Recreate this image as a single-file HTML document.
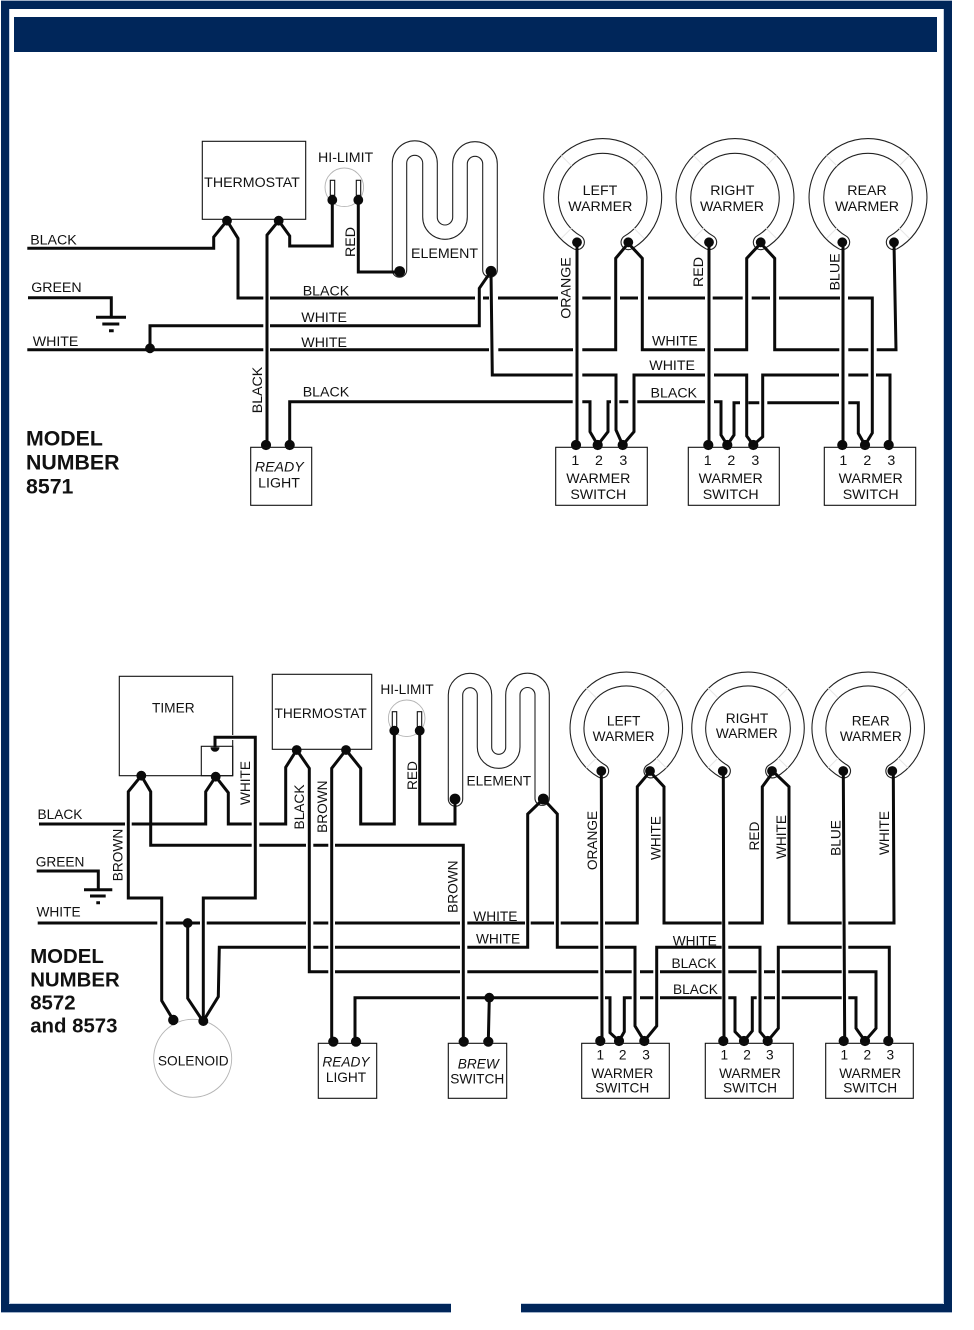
<!DOCTYPE html>
<html><head><meta charset="utf-8"><style>
html,body{margin:0;padding:0;background:#fff;width:974px;height:1330px;overflow:hidden}
svg{display:block}
text{font-family:"Liberation Sans",sans-serif;font-size:14.2px;fill:#111}
.s text,text.s{font-size:13.7px}
.w{fill:none;stroke:#0a0a0a;stroke-width:3;stroke-linejoin:miter}
.b{fill:none;stroke:#111;stroke-width:1.1}
.e{fill:none;stroke:#222;stroke-width:1.1}
.c{fill:none;stroke:#b4b4b4;stroke-width:.9}
.f{fill:none;stroke:#e6e6e6;stroke-width:1}
.m{font-weight:bold;font-size:21.3px}
.m2{font-weight:bold;font-size:20.4px}
.d{fill:#0a0a0a}
.mid{text-anchor:middle}
</style></head><body>
<svg width="974" height="1330" viewBox="0 0 974 1330" xmlns="http://www.w3.org/2000/svg">
<defs>
<g id="ringA"><path d="M-25.7 45.3A51.6 51.6 0 1 1 25.7 45.3" fill="none" stroke="#222" stroke-width="15.8" stroke-linecap="round"/><path d="M-25.7 45.3A51.6 51.6 0 1 1 25.7 45.3" fill="none" stroke="#fff" stroke-width="13.6" stroke-linecap="round"/><path class="f" d="M-31 -31L-41.5 -41.5M31 -31L41.5 -41.5M-31 31L-41.5 41.5M31 31L41.5 41.5"/></g>
<g id="ringB"><path d="M-24.6 43A49.3 49.3 0 1 1 24.6 43" fill="none" stroke="#222" stroke-width="15" stroke-linecap="round"/><path d="M-24.6 43A49.3 49.3 0 1 1 24.6 43" fill="none" stroke="#fff" stroke-width="12.8" stroke-linecap="round"/><path class="f" d="M-30 -30L-40 -40M30 -30L40 -40M-30 30L-40 40M30 30L40 40"/></g>
</defs>

<!-- frame -->
<rect x="1" y="1" width="8" height="1311" fill="#00265a"/>
<rect x="1" y="1" width="951" height="8" fill="#00265a"/>
<rect x="944" y="1" width="8" height="1311" fill="#00265a"/>
<rect x="1" y="1304" width="450" height="8" fill="#00265a"/>
<rect x="521" y="1304" width="431" height="8" fill="#00265a"/>
<path d="M9.5 9V1303.5M943.5 9V1303.5M10 1303.5H451M521 1303.5H943" stroke="#c3d0e2" stroke-width="1" fill="none"/>
<path d="M1 .5H952M1 1312.5H451M521 1312.5H952" stroke="#9fb0c8" stroke-width="1" fill="none"/>
<rect x="14" y="17" width="923" height="35" fill="#00265a"/>

<!-- ===== TOP DIAGRAM ===== -->
<rect class="b" x="202.3" y="141.3" width="103.4" height="78"/>
<text class="mid" x="252" y="187">THERMOSTAT</text>
<text x="318" y="162">HI-LIMIT</text>
<circle class="c" cx="344.3" cy="187.3" r="19.3"/>
<rect class="b" x="330.3" y="180.3" width="4.4" height="15"/>
<rect class="b" x="356.3" y="180.3" width="4.4" height="15"/>
<path class="e" d="M392.3 270V163.3A22.5 22.5 0 0 1 437.3 163.3V217.3A7.7 7.7 0 0 0 452.7 217.3V164A22.3 22.3 0 0 1 497.3 164V270A7.3 7.3 0 0 1 482.7 270V164A7.7 7.7 0 0 0 467.3 164V217A22.3 22.3 0 0 1 422.7 217V163.3A8 8 0 0 0 406.7 163.3V270A7.2 7.2 0 0 1 392.3 270Z"/>
<text x="411" y="258">ELEMENT</text>
<use href="#ringA" x="602.7" y="197"/>
<use href="#ringA" x="735" y="197"/>
<use href="#ringA" x="868" y="197"/>
<text class="mid" x="600" y="195.2">LEFT</text><text class="mid" x="600.3" y="210.8">WARMER</text>
<text class="mid" x="732.3" y="195.2">RIGHT</text><text class="mid" x="732" y="210.8">WARMER</text>
<text class="mid" x="867" y="195.2">REAR</text><text class="mid" x="867" y="210.8">WARMER</text>

<path class="w" d="M27.3 248.3H213.7V237L227 220.7L238 238.3V298H263.3M270 298H475M483 298H489M498 298H558M582.3 298H610.7M620 298H638M648 298H705M712.7 298H742.7M751.7 298H770M779 298H840M848 298H872.3V433L865 445"/>
<path class="w" d="M278.7 220.7L267 235V445M278.7 220.7L289.7 236V246H332.3V200M358.3 200V272H399.7"/>
<path class="w" d="M491 271.3L479.3 288.3V325.7H270M263.3 325.7H150V349.7"/>
<path class="w" d="M27.3 349.7H263.3M270 349.7H489M498.3 349.7H573M582.3 349.7H615.7V258.3L628.3 243.3L642.3 258.3V349.7H705M714 349.7H746.7V258.3L760.7 243.3L774.7 258.3V349.7H839.3M848.3 349.7H868.3M876.7 349.7H896L894 243.3"/>
<path class="w" d="M491 271.3L492.3 375H572.7M582.3 375H616V430L622.7 445L634 431.7V375H705M714 375H746.7V436L753.3 445L762.7 436.7V375H839M848.3 375H868.3M876 375H890V445"/>
<path class="w" d="M289.7 445V401.7H572.7M582.3 401.7H590V431.7L597.7 445L608 431.7V401.7H611M619.3 401.7H628.3M637.3 401.7H705M714 401.7H721V435L727.3 445L734 435V402.7H740M748.3 402.7H759.3M767.3 402.7H839M848.3 402.7H858.3V433.3L865 445"/>
<path class="w" d="M577 242.3V445M709 242.3V445M843 242.3V445"/>
<path class="w" d="M28 297.7H111.3V317.3M96 317.3H126M102.3 324H119.3M109 330.7H113.7"/>

<g class="d">
<circle cx="227" cy="220.7" r="4.9"/><circle cx="278.7" cy="220.7" r="4.9"/>
<circle cx="332.3" cy="200" r="4.9"/><circle cx="358.3" cy="200" r="4.9"/>
<circle cx="399.7" cy="271.5" r="5.4"/><circle cx="491" cy="271.3" r="5.4"/>
<circle cx="150" cy="348.3" r="4.9"/>
<circle cx="266" cy="445" r="5.1"/><circle cx="289.7" cy="445" r="5.1"/>
<circle cx="577" cy="242.3" r="4.9"/><circle cx="628.3" cy="242.3" r="4.9"/>
<circle cx="709" cy="242.3" r="4.9"/><circle cx="760.7" cy="242.3" r="4.9"/>
<circle cx="842.3" cy="242.3" r="4.9"/><circle cx="894" cy="242.3" r="4.9"/>
<circle cx="576" cy="445" r="5.1"/><circle cx="597.7" cy="445" r="5.1"/><circle cx="622.7" cy="445" r="5.1"/>
<circle cx="708.3" cy="445" r="5.1"/><circle cx="727.3" cy="445" r="5.1"/><circle cx="753.3" cy="445" r="5.1"/>
<circle cx="842.3" cy="445" r="5.1"/><circle cx="865" cy="445" r="5.1"/><circle cx="888.7" cy="445" r="5.1"/>
</g>

<text x="30.2" y="244.3">BLACK</text>
<text x="31.2" y="292">GREEN</text>
<text x="32.7" y="346">WHITE</text>
<text x="302.7" y="295.7">BLACK</text>
<text x="301.3" y="322">WHITE</text>
<text x="301.3" y="347">WHITE</text>
<text x="302.7" y="396.7">BLACK</text>
<text x="652" y="345.7">WHITE</text>
<text x="649.3" y="370">WHITE</text>
<text x="650.5" y="397.3">BLACK</text>
<text class="mid" transform="translate(262,390) rotate(-90)">BLACK</text>
<text class="mid" transform="translate(355,242) rotate(-90)">RED</text>
<text class="mid" transform="translate(570.7,288) rotate(-90)">ORANGE</text>
<text class="mid" transform="translate(703,272) rotate(-90)">RED</text>
<text class="mid" transform="translate(839.7,272) rotate(-90)">BLUE</text>

<text class="m" x="26" y="445.7">MODEL</text>
<text class="m" x="26" y="469.3">NUMBER</text>
<text class="m" x="26" y="493.3">8571</text>

<rect class="b" x="250.7" y="447.3" width="61" height="58"/>
<text class="mid" x="279.3" y="471.3" font-style="italic">READY</text>
<text class="mid" x="279" y="487.7">LIGHT</text>

<rect class="b" x="555.7" y="447.3" width="91.6" height="58"/>
<rect class="b" x="688.3" y="447.3" width="91" height="58"/>
<rect class="b" x="824.3" y="447.3" width="91.4" height="58"/>
<text class="mid" x="575.3" y="465">1</text><text class="mid" x="599" y="465">2</text><text class="mid" x="623.3" y="465">3</text>
<text class="mid" x="707.7" y="465">1</text><text class="mid" x="731.3" y="465">2</text><text class="mid" x="755.3" y="465">3</text>
<text class="mid" x="843.3" y="465">1</text><text class="mid" x="867.3" y="465">2</text><text class="mid" x="891.3" y="465">3</text>
<text class="mid" x="598.3" y="483.2">WARMER</text><text class="mid" x="598.3" y="499.2">SWITCH</text>
<text class="mid" x="730.7" y="483.2">WARMER</text><text class="mid" x="730.7" y="499.2">SWITCH</text>
<text class="mid" x="870.7" y="483.2">WARMER</text><text class="mid" x="870.7" y="499.2">SWITCH</text>

<!-- ===== BOTTOM DIAGRAM ===== -->
<g class="s">
<rect class="b" x="119.3" y="676.3" width="113.4" height="99.4"/>
<rect class="b" x="201.3" y="746.3" width="31.4" height="29.4"/>
<rect x="230" y="735" width="5" height="5" fill="#fff"/>
<text class="mid" x="173.3" y="712.7">TIMER</text>
<rect class="b" x="272.3" y="674.3" width="99.4" height="75"/>
<text class="mid" x="320.6" y="718">THERMOSTAT</text>
<text x="380.4" y="694">HI-LIMIT</text>
<circle class="c" cx="406.7" cy="718.3" r="18.3"/>
<rect class="b" x="392.3" y="711.7" width="4.4" height="15"/>
<rect class="b" x="417.3" y="711.7" width="4.4" height="15"/>
<path class="e" d="M448.3 799V695A21.7 21.7 0 0 1 491.7 695V747.3A7 7 0 0 0 505.7 747.3V695A21.8 21.8 0 0 1 549.3 695V799A7.2 7.2 0 0 1 535 799V695A7.5 7.5 0 0 0 520 695V747A21.3 21.3 0 0 1 477.3 747V695A7.3 7.3 0 0 0 462.7 695V799A7.2 7.2 0 0 1 448.3 799Z"/>
<text x="466.5" y="785.7">ELEMENT</text>
<use href="#ringB" x="626.3" y="728"/>
<use href="#ringB" x="748" y="728"/>
<use href="#ringB" x="868.2" y="728"/>
<text class="mid" x="623.6" y="725.5">LEFT</text><text class="mid" x="623.6" y="740.8">WARMER</text>
<text class="mid" x="747" y="722.8">RIGHT</text><text class="mid" x="746.8" y="738">WARMER</text>
<text class="mid" x="870.8" y="725.5">REAR</text><text class="mid" x="870.8" y="740.8">WARMER</text>
<circle class="c" cx="192.7" cy="1058.3" r="39"/>
<text class="mid" x="193.3" y="1065.7">SOLENOID</text>

<path class="w" d="M215 747.3V737.3H255.3V898H203.3V1021.7"/>
<path class="w" d="M141.3 775.7L128.3 791.7V898H161.7V1000.7L173.3 1020"/>
<path class="w" d="M141.3 775.7L150.7 791.7V845.3H251.7M259.3 845.3H306M313.3 845.3H328.3M335 845.3H463.3V1041.7"/>
<path class="w" d="M39 824H125M131.7 824H205.7V791.7L215.7 776.7L228.3 792.7V824H251.7M259.3 824H285.7V767.3L296.7 750L309.3 768.3V971.7H328.3M335 971.7H460M467.3 971.7H598.3M605 971.7H631.7M640 971.7H653.3M660 971.7H721.7M728.3 971.7H756.7M764 971.7H775M781.7 971.7H841.7M848.3 971.7H876V1028.3L865 1041"/>
<path class="w" d="M346 750L331.7 768.3V1041.7M346 750L360.7 768.3V824H394.3V730.7M419.7 730.7V824H455V799"/>
<path class="w" d="M543.3 799L527.7 814V947.3H467.3M460 947.3H335M328.3 947.3H313.3M306 947.3H219.3L218.3 996.7L203.3 1021M543.3 799L557.3 814V947.3H598.3M605 947.3H635V1026L644.3 1041L656.7 1026V947.3H721.7M728.3 947.3H760V1031.7L767.7 1041L778.3 1028.3V947.3H841.7M848.3 947.3H889.3V1041"/>
<path class="w" d="M37.7 923H157.3M165.7 923H200M206.7 923H306M313.3 923H328.3M335 923H460M467.3 923H525M530.7 923H554M560.7 923H598.3M605 923H637.3V786.7L650 771.7L664 786.7V923H721.7M728.3 923H762.3V786.7L773.3 771.7L789 786.7V923H841.7M848.3 923H894L893.3 771.7"/>
<path class="w" d="M187.7 923V998.3L201 1018.3"/>
<path class="w" d="M355 1041.7V997.7H460M466.7 997.7H598.3M605 997.7H610V1032.7L619 1041L624.3 1031.7V997.7H631.7M640 997.7H653.3M660 997.7H721.7M728.3 997.7H735V1031.7L744 1041L752.3 1031V997.7H756.7M764 997.7H775M781.7 997.7H841.7M848.3 997.7H856V1028.3L865 1041M489.3 997.7L488.3 1041.7"/>
<path class="w" d="M601.3 771L602 1041.7M723.3 771L724 1041.7M843.3 771L844.7 1041.7"/>
<path class="w" d="M36.7 871H98.3V889.7M84 889.7H112.3M90 896H105.7M96.3 902.7H100"/>

<g class="d">
<path d="M210.5 747.3A4.5 4.5 0 0 0 219.5 747.3Z"/>
<circle cx="141.3" cy="775.7" r="4.9"/><circle cx="215.7" cy="776.7" r="4.9"/>
<circle cx="296.7" cy="750" r="4.9"/><circle cx="346" cy="750" r="4.9"/>
<circle cx="394.3" cy="730.7" r="4.9"/><circle cx="419.7" cy="730.7" r="4.9"/>
<circle cx="455" cy="799" r="5.4"/><circle cx="543.3" cy="799" r="5.4"/>
<circle cx="187.7" cy="923" r="4.9"/><circle cx="489.3" cy="997.7" r="4.9"/>
<circle cx="173.3" cy="1020" r="5.2"/><circle cx="203.3" cy="1021" r="5"/>
<circle cx="333.3" cy="1041.7" r="5.1"/><circle cx="356" cy="1041.7" r="5.1"/>
<circle cx="463.7" cy="1041.7" r="5.1"/><circle cx="488.3" cy="1041.7" r="5.1"/>
<circle cx="601.3" cy="771" r="4.9"/><circle cx="650" cy="771" r="4.9"/>
<circle cx="722.7" cy="771" r="4.9"/><circle cx="772" cy="771" r="4.9"/>
<circle cx="843.3" cy="771" r="4.9"/><circle cx="892.3" cy="771" r="4.9"/>
<circle cx="600.3" cy="1041" r="5.1"/><circle cx="619" cy="1041" r="5.1"/><circle cx="644.3" cy="1041" r="5.1"/>
<circle cx="723.3" cy="1041" r="5.1"/><circle cx="744" cy="1041" r="5.1"/><circle cx="767.7" cy="1041" r="5.1"/>
<circle cx="843.7" cy="1041" r="5.1"/><circle cx="865" cy="1041" r="5.1"/><circle cx="888.3" cy="1041" r="5.1"/>
</g>

<text x="37.5" y="819">BLACK</text>
<text x="35.7" y="866.7">GREEN</text>
<text x="36.5" y="916.7">WHITE</text>
<text x="473.3" y="921">WHITE</text>
<text x="476" y="943.3">WHITE</text>
<text x="672.7" y="945.7">WHITE</text>
<text x="671.5" y="968">BLACK</text>
<text x="673" y="994">BLACK</text>
<text class="mid" transform="translate(250,783) rotate(-90)">WHITE</text>
<text class="mid" transform="translate(122.7,855) rotate(-90)">BROWN</text>
<text class="mid" transform="translate(304,807) rotate(-90)">BLACK</text>
<text class="mid" transform="translate(327,806.7) rotate(-90)">BROWN</text>
<text class="mid" transform="translate(417,775.5) rotate(-90)">RED</text>
<text class="mid" transform="translate(457.5,886.7) rotate(-90)">BROWN</text>
<text class="mid" transform="translate(597,840.5) rotate(-90)">ORANGE</text>
<text class="mid" transform="translate(660.5,838) rotate(-90)">WHITE</text>
<text class="mid" transform="translate(759,836) rotate(-90)">RED</text>
<text class="mid" transform="translate(786,837) rotate(-90)">WHITE</text>
<text class="mid" transform="translate(840.5,838) rotate(-90)">BLUE</text>
<text class="mid" transform="translate(889,833) rotate(-90)">WHITE</text>

<rect class="b" x="318.3" y="1043.3" width="58.4" height="55"/>
<text class="mid" x="346" y="1066.7" font-style="italic">READY</text>
<text class="mid" x="346" y="1082">LIGHT</text>
<rect class="b" x="448.3" y="1043.3" width="58.4" height="55"/>
<text class="mid" x="478.3" y="1068.3" font-style="italic">BREW</text>
<text class="mid" x="477.3" y="1083.3">SWITCH</text>

<rect class="b" x="581.7" y="1043.3" width="87.6" height="55"/>
<rect class="b" x="705.3" y="1043.3" width="88" height="55"/>
<rect class="b" x="825.7" y="1043.3" width="87.6" height="55"/>
<text class="mid" x="600.3" y="1059.3">1</text><text class="mid" x="622.7" y="1059.3">2</text><text class="mid" x="646" y="1059.3">3</text>
<text class="mid" x="724.3" y="1059.3">1</text><text class="mid" x="747" y="1059.3">2</text><text class="mid" x="769.8" y="1059.3">3</text>
<text class="mid" x="844.3" y="1059.3">1</text><text class="mid" x="867.3" y="1059.3">2</text><text class="mid" x="890.3" y="1059.3">3</text>
<text class="mid" x="622.3" y="1077.8">WARMER</text><text class="mid" x="622.3" y="1092.7">SWITCH</text>
<text class="mid" x="750" y="1077.8">WARMER</text><text class="mid" x="750" y="1092.7">SWITCH</text>
<text class="mid" x="870.2" y="1077.8">WARMER</text><text class="mid" x="870.2" y="1092.7">SWITCH</text>
</g>

<text class="m2" x="30.2" y="963">MODEL</text>
<text class="m2" x="30.2" y="986.7">NUMBER</text>
<text class="m2" x="30.2" y="1009.3">8572</text>
<text class="m2" x="30.2" y="1032.5">and 8573</text>
</svg>
</body></html>
